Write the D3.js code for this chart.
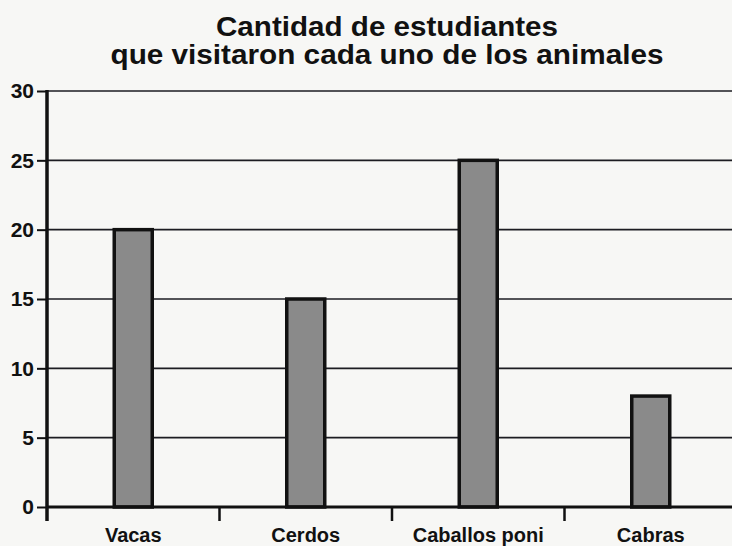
<!DOCTYPE html>
<html>
<head>
<meta charset="utf-8">
<script src="https://cdn.jsdelivr.net/npm/d3@7"></script>
<style>
	body { margin: 0; background: #f7f7f5; }
	svg { display: block; font-family: "Liberation Sans", Arial, sans-serif; font-weight: bold; }
</style>
</head>
<body>
<div id="chart"></div>
<script>
// Data.
var animals = [ 'Vacas', 'Cerdos', 'Caballos poni', 'Cabras' ];
var students = [ 20, 15, 25, 8 ];
var yTicks = [ 0, 5, 10, 15, 20, 25, 30 ];
var titleLines = [ 'Cantidad de estudiantes', 'que visitaron cada uno de los animales' ];

( function () {

	var width = 732, height = 546;
	var margins = { top: 91, left: 47, bottom: 39, right: -5 };

	var svg = d3.select( '#chart' ).append( 'svg' )
		.attr( 'width', width )
		.attr( 'height', height );

	// Scales.
	var xScale = d3.scaleBand()
		.domain( animals )
		.range( [ margins.left, width - margins.right ] )
		.padding( 0 );

	var yScale = d3.scaleLinear()
		.domain( [ 0, 30 ] )
		.range( [ height - margins.bottom, margins.top ] );

	// Title, two lines.
	var titleWidths = [ 342, 553 ];
	svg.selectAll( 'text.title' )
		.data( titleLines )
		.enter()
		.append( 'text' )
		.attr( 'class', 'title' )
		.attr( 'x', 387 )
		.attr( 'y', function ( d, i ) { return 36 + i * 28; } )
		.attr( 'text-anchor', 'middle' )
		.attr( 'font-size', 27 )
		.attr( 'textLength', function ( d, i ) { return titleWidths[i]; } )
		.attr( 'lengthAdjust', 'spacingAndGlyphs' )
		.attr( 'fill', '#111' )
		.text( function ( d ) { return d; } );

	// Horizontal grid lines.
	svg.append( 'g' )
		.selectAll( 'line' )
		.data( yTicks.filter( function ( d ) { return d > 0; } ) )
		.enter()
		.append( 'line' )
		.attr( 'x1', margins.left )
		.attr( 'x2', width )
		.attr( 'y1', function ( d ) { return yScale( d ); } )
		.attr( 'y2', function ( d ) { return yScale( d ); } )
		.attr( 'stroke', '#1c1c22' )
		.attr( 'stroke-width', 1.6 );

	// Y axis.
	var yAxis = d3.axisLeft( yScale )
		.tickValues( yTicks )
		.tickSize( 10 )
		.tickPadding( 3 );

	var yG = svg.append( 'g' )
		.attr( 'transform', 'translate( ' + margins.left + ', 0 )' )
		.call( yAxis );

	yG.select( '.domain' ).remove();
	yG.selectAll( '.tick line' ).attr( 'stroke', '#111' ).attr( 'stroke-width', 2 );
	yG.selectAll( '.tick text' )
		.attr( 'font-size', 21 )
		.attr( 'font-family', '"Liberation Sans", Arial, sans-serif' )
		.attr( 'font-weight', 'bold' )
		.attr( 'fill', '#111' );

	// Bars.
	var barWidth = 38;
	svg.append( 'g' )
		.selectAll( 'rect' )
		.data( students )
		.enter()
		.append( 'rect' )
		.attr( 'x', function ( d, i ) { return xScale( animals[i] ) + xScale.bandwidth() / 2 - barWidth / 2; } )
		.attr( 'y', function ( d ) { return yScale( d ); } )
		.attr( 'width', barWidth )
		.attr( 'height', function ( d ) { return yScale( 0 ) - yScale( d ); } )
		.attr( 'fill', '#8a8a8a' )
		.attr( 'stroke', '#111' )
		.attr( 'stroke-width', 3.5 );

	// X axis: thick baseline with ticks at the category boundaries.
	var xAxis = d3.axisBottom( xScale )
		.tickSize( 0 )
		.tickPadding( 21 );

	var xG = svg.append( 'g' )
		.attr( 'transform', 'translate( 0, ' + yScale( 0 ) + ' )' )
		.call( xAxis );

	xG.select( '.domain' ).remove();
	xG.selectAll( '.tick text' )
		.attr( 'font-size', 20 )
		.attr( 'font-family', '"Liberation Sans", Arial, sans-serif' )
		.attr( 'font-weight', 'bold' )
		.attr( 'fill', '#111' );

	xG.append( 'line' )
		.attr( 'x1', margins.left )
		.attr( 'x2', width )
		.attr( 'stroke', '#111' )
		.attr( 'stroke-width', 3 );

	xG.selectAll( 'line.sep' )
		.data( animals.slice( 1 ) )
		.enter()
		.append( 'line' )
		.attr( 'class', 'sep' )
		.attr( 'x1', function ( d ) { return xScale( d ); } )
		.attr( 'x2', function ( d ) { return xScale( d ); } )
		.attr( 'y1', 0 )
		.attr( 'y2', 14 )
		.attr( 'stroke', '#111' )
		.attr( 'stroke-width', 2.5 );

	// Vertical axis line, running a little past the baseline.
	svg.append( 'line' )
		.attr( 'x1', margins.left )
		.attr( 'x2', margins.left )
		.attr( 'y1', yScale( 30 ) - 1 )
		.attr( 'y2', yScale( 0 ) + 14 )
		.attr( 'stroke', '#111' )
		.attr( 'stroke-width', 3.5 );

} )();
</script>
</body>
</html>
